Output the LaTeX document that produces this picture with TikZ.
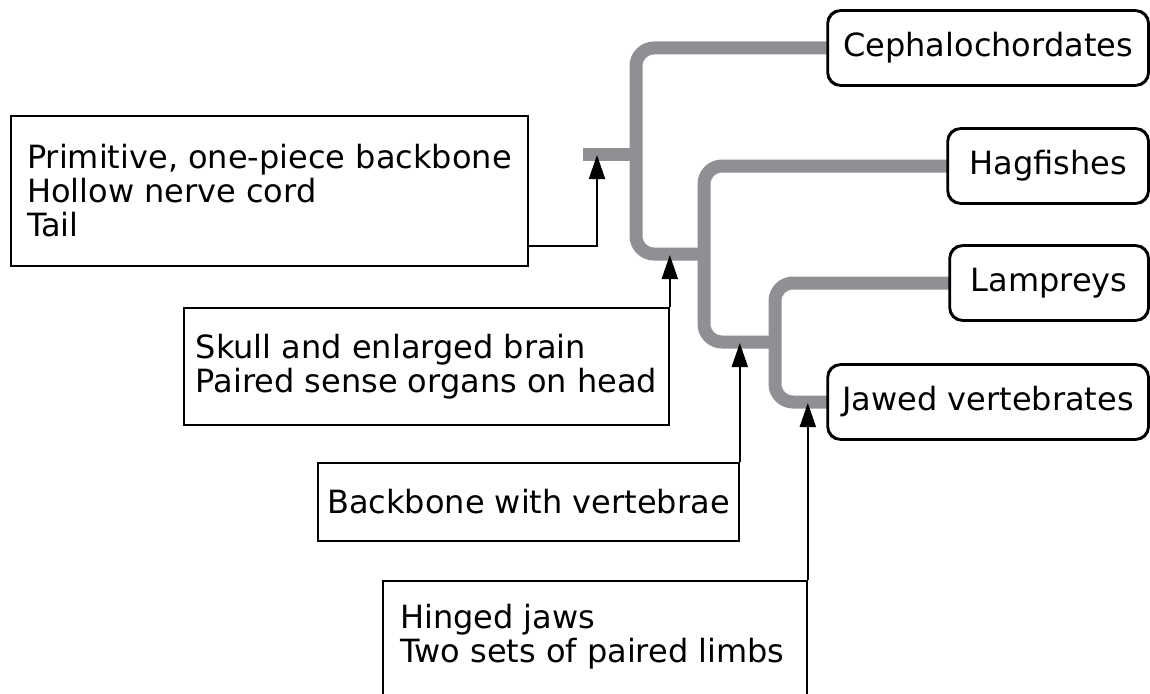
\documentclass[tikz,border=0pt]{standalone}
\usepackage{fontspec}
\setmainfont{DejaVu Sans}
\usetikzlibrary{arrows.meta,calc}
\definecolor{branchgray}{HTML}{8F9094}
\begin{document}
\begin{tikzpicture}[x=1pt,y=-1pt,
  branch/.style={draw=branchgray,line width=13pt,rounded corners=18pt},
  taxon/.style={draw=black,line width=1.8pt,rounded corners=13pt,fill=white,
    minimum height=74pt,anchor=east,inner sep=0pt,font=\fontsize{32}{34}\selectfont},
  trait/.style={draw=black,line width=1.8pt,fill=white,inner sep=0pt,
    align=left,font=\fontsize{32}{34}\selectfont},
  txt/.style={align=left,inner sep=0pt,font=\fontsize{32}{34}\selectfont},
  arr/.style={draw=black,line width=2pt,-{Triangle[length=24pt,width=16pt]}}]
\useasboundingbox (0,0) rectangle (1150,693);
% taxa
\node[taxon,minimum width=320pt] (ceph) at (1149,48) {Cephalochordates};
\node[taxon,minimum width=200pt] (hag) at (1149,166) {Hagfishes};
\node[taxon,minimum width=198pt] (lam) at (1149,283) {Lampreys};
\node[taxon,minimum width=320pt] (jaw) at (1149,402) {Jawed vertebrates};
% tree
\coordinate (root) at (583,154);
\coordinate (n1) at (636,154);
\coordinate (n2) at (704,254);
\coordinate (n3) at (775,342);
\draw[branch] (root) -- (n1);
\draw[branch] (ceph.west) -| (n1 |- n2) -- (n2);
\draw[branch] (hag.west) -| (n2 |- n3) -- (n3);
\draw[branch] (lam.west) -| (n3 |- jaw.west) -- (jaw.west);
% taxon borders on top of the branches
\foreach \t in {ceph,hag,lam,jaw}{
  \draw[line width=1.8pt,rounded corners=13pt] (\t.north west) rectangle (\t.south east);
}
% trait boxes
\node[trait,minimum width=517pt,minimum height=150pt,anchor=north west] (b1) at (10,115)
  {Primitive, one-piece backbone\\Hollow nerve cord\\Tail};
\node[trait,minimum width=485pt,minimum height=117pt,anchor=north west] (b2) at (183,307)
  {Skull and enlarged brain\\Paired sense organs on head};
\node[trait,minimum width=421pt,minimum height=78pt,anchor=north west] (b3) at (317,462)
  {Backbone with vertebrae};
\node[draw=black,line width=1.8pt,minimum width=424pt,minimum height=160pt,anchor=north west,inner sep=0pt] (b4) at (382,580) {};
\node[txt,anchor=west] (t4) at (400,637) {Hinged jaws\\Two sets of paired limbs};
% arrows
\draw[arr] ($(b1.south east)+(0,-21)$) -| ($(root)+(14,1)$);
\draw[arr] (b2.north east) -- ($(b2.north east |- n2)+(0,1)$);
\draw[arr] (b3.north east) -- ($(b3.north east |- n3)+(0,1)$);
\draw[arr] (b4.north east) -- ($(b4.north east |- jaw.west)+(0,1)$);
\end{tikzpicture}
\end{document}
